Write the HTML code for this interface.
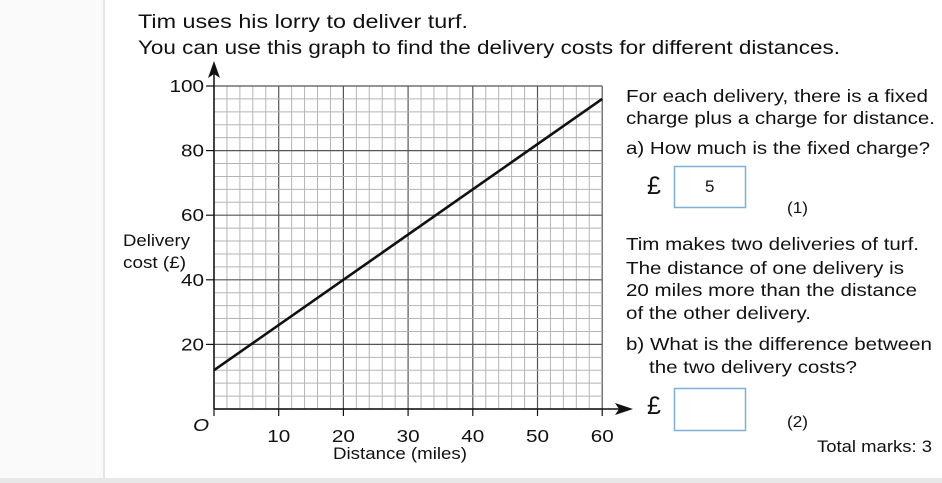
<!DOCTYPE html>
<html><head><meta charset="utf-8"><style>
html,body{margin:0;padding:0;background:#fff;}
svg{display:block;font-family:"Liberation Sans",Arial,sans-serif;}
</style></head><body>
<svg width="942" height="483" viewBox="0 0 942 483" xmlns="http://www.w3.org/2000/svg">
<rect x="0" y="0" width="942" height="483" fill="#fff"/>
<rect x="0" y="0" width="103" height="483" fill="#fafafa"/>
<rect x="103" y="0" width="2" height="483" fill="#e4e4e4"/>
<rect x="0" y="478" width="942" height="5" fill="#e8e8e8"/>
<g fill="#111" font-size="19.5">
<text x="138" y="28" textLength="330" lengthAdjust="spacingAndGlyphs">Tim uses his lorry to deliver turf.</text>
<text x="138" y="54" textLength="702" lengthAdjust="spacingAndGlyphs">You can use this graph to find the delivery costs for different distances.</text>
</g>
<g fill="#111" font-size="17.5" lengthAdjust="spacingAndGlyphs">
<text x="626" y="102" textLength="302" lengthAdjust="spacingAndGlyphs">For each delivery, there is a fixed</text>
<text x="626" y="124" textLength="309" lengthAdjust="spacingAndGlyphs">charge plus a charge for distance.</text>
<text x="626" y="154" textLength="304" lengthAdjust="spacingAndGlyphs">a) How much is the fixed charge?</text>
<text x="626" y="250" textLength="293" lengthAdjust="spacingAndGlyphs">Tim makes two deliveries of turf.</text>
<text x="626" y="274" textLength="278" lengthAdjust="spacingAndGlyphs">The distance of one delivery is</text>
<text x="626" y="296" textLength="291" lengthAdjust="spacingAndGlyphs">20 miles more than the distance</text>
<text x="626" y="319" textLength="185" lengthAdjust="spacingAndGlyphs">of the other delivery.</text>
<text x="626" y="350" textLength="306" lengthAdjust="spacingAndGlyphs">b) What is the difference between</text>
<text x="649" y="373" textLength="208" lengthAdjust="spacingAndGlyphs">the two delivery costs?</text>
</g>
<text x="647" y="194" font-size="25" fill="#111">£</text>
<rect x="674.5" y="166.5" width="71" height="41" fill="#fff" stroke="#7fb0d8" stroke-width="1.5"/>
<text x="705" y="192" font-size="17" fill="#111">5</text>
<text x="787" y="213" font-size="16" fill="#111" textLength="21" lengthAdjust="spacingAndGlyphs">(1)</text>
<text x="647" y="414" font-size="25" fill="#111">£</text>
<rect x="674.5" y="388.5" width="71" height="42" fill="#fff" stroke="#7fb0d8" stroke-width="1.5"/>
<text x="787" y="427" font-size="16" fill="#111" textLength="21" lengthAdjust="spacingAndGlyphs">(2)</text>
<text x="817" y="452" font-size="16.5" fill="#111" textLength="115" lengthAdjust="spacingAndGlyphs">Total marks: 3</text>
</svg>
<script>
(function(){
var svg=document.querySelector('svg');var NS='http://www.w3.org/2000/svg';
function el(t,a,txt){var e=document.createElementNS(NS,t);for(var k in a)e.setAttribute(k,a[k]);if(txt!==undefined)e.textContent=txt;svg.appendChild(e);return e;}
var X=function(m){return 214+m*6.47;},Y=function(v){return 409-v*3.23;};
function sx(x){return 'translate('+x+',0) scale(1.15,1) translate('+(-x)+',0)';}
for(var m=0;m<=60;m+=2){var major=(m%10==0);el('line',{x1:X(m),y1:Y(100),x2:X(m),y2:Y(0),stroke:major?'#555':'#b5b5b5','stroke-width':major?1.2:1});}
for(var v=0;v<=100;v+=4){var major=(v%20==0);el('line',{x1:X(0),y1:Y(v),x2:X(60),y2:Y(v),stroke:major?'#555':'#b5b5b5','stroke-width':major?1.2:1});}
el('line',{x1:X(0),y1:Y(0),x2:X(0),y2:70,stroke:'#111','stroke-width':1.5});
el('polygon',{points:'214,61 208,78 214,74 220,78',fill:'#111'});
el('line',{x1:X(0),y1:Y(0),x2:624,y2:Y(0),stroke:'#111','stroke-width':1.5});
el('polygon',{points:'633,409 615,403 619,409 615,415',fill:'#111'});
for(var v=20;v<=100;v+=20){el('line',{x1:206,y1:Y(v),x2:214,y2:Y(v),stroke:'#111','stroke-width':1.2});el('text',{x:204,y:Y(v)+6,'font-size':18,'text-anchor':'end',fill:'#111',transform:sx(204)},String(v));}
for(var m=10;m<=60;m+=10){el('line',{x1:X(m),y1:Y(0),x2:X(m),y2:Y(0)+7,stroke:'#111','stroke-width':1.2});el('text',{x:X(m),y:442,'font-size':18,'text-anchor':'middle',fill:'#111',transform:sx(X(m))},String(m));}
el('line',{x1:X(0),y1:Y(0),x2:X(0),y2:Y(0)+7,stroke:'#111','stroke-width':1.2});
el('text',{x:193,y:431,'font-size':18,'font-style':'italic',fill:'#111',transform:sx(193)},'O');
el('text',{x:400,y:459,'font-size':17,'text-anchor':'middle',fill:'#111',textLength:134,lengthAdjust:'spacingAndGlyphs'},'Distance (miles)');
el('text',{x:123,y:246,'font-size':17,fill:'#111',textLength:67,lengthAdjust:'spacingAndGlyphs'},'Delivery');
el('text',{x:123,y:268,'font-size':17,fill:'#111',textLength:63,lengthAdjust:'spacingAndGlyphs'},'cost (£)');
el('line',{x1:X(0),y1:Y(12),x2:X(60),y2:Y(96),stroke:'#111','stroke-width':2.6});
})();
</script>
</body></html>
